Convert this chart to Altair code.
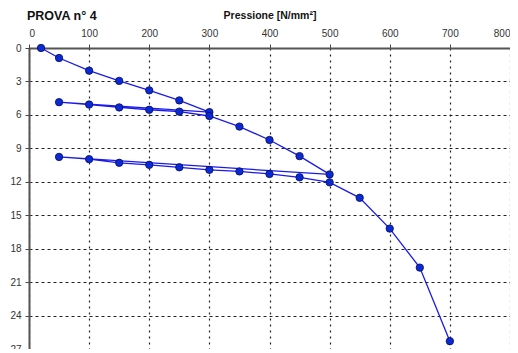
import altair as alt
import pandas as pd

# Pressure [N/mm^2] and depth/displacement readings in test order
pressione = [20, 50, 100, 150, 200, 250, 300,
             50, 100, 150, 200, 250, 300,
             350, 400, 450, 500,
             50, 100, 150, 200, 250, 300, 350, 400, 450, 500,
             550, 600, 650, 700]
valore = [0.0, 0.9, 2.03, 2.95, 3.8, 4.7, 5.75,
          4.86, 5.07, 5.33, 5.54, 5.71, 6.1,
          7.05, 8.25, 9.7, 11.34,
          9.77, 9.97, 10.3, 10.48, 10.7, 10.93, 11.07, 11.3, 11.6, 12.05,
          13.44, 16.2, 19.7, 26.3]

x_ticks = [0, 100, 200, 300, 400, 500, 600, 700, 800]
y_ticks = [0, 3, 6, 9, 12, 15, 18, 21, 24, 27]

df = pd.DataFrame({"p": pressione, "v": valore, "ordine": list(range(len(pressione)))})

x_enc = alt.X("p:Q",
              scale=alt.Scale(domain=[0, 800], nice=False),
              axis=alt.Axis(orient="top", values=x_ticks, tickCount=len(x_ticks),
                            title="Pressione [N/mm²]",
                            titleFontSize=10.5, titleFontWeight="bold", titleColor="#111",
                            titleFont="Liberation Sans", titlePadding=8,
                            labelFont="Liberation Sans", labelFontSize=10, labelColor="#333",
                            labelPadding=6, tickSize=4, tickColor="#444",
                            domainColor="#555", domainWidth=2, labelOverlap=False,
                            grid=True, gridColor="#222", gridDash=[2, 4], gridWidth=1.2))
y_enc = alt.Y("v:Q",
              scale=alt.Scale(domain=[0, 27], reverse=True, nice=False),
              axis=alt.Axis(values=y_ticks, tickCount=len(y_ticks), title=None,
                            labelFont="Liberation Sans", labelFontSize=10, labelColor="#333",
                            labelPadding=4, tickSize=4, tickColor="#444",
                            domainColor="#555", domainWidth=2, labelOverlap=False,
                            grid=True, gridColor="#222", gridDash=[3, 3], gridWidth=1.2))

line = alt.Chart(df).mark_line(color="#1a1aee", strokeWidth=1.3).encode(
    x=x_enc, y=y_enc, order="ordine:Q")
pts = alt.Chart(df).mark_point(filled=True, size=55, color="#0a2ad8", stroke="#0a0a50",
                               strokeWidth=0.8, opacity=1).encode(
    x=alt.X("p:Q"), y=alt.Y("v:Q"))

chart = alt.layer(line, pts).properties(
    width=481, height=301,
    title=alt.TitleParams("PROVA n° 4", anchor="start", font="Liberation Sans",
                          fontSize=12.5, fontWeight="bold", color="#111", offset=0,
                          dx=-2, dy=12, frame="group"),
    autosize=alt.AutoSizeParams(type="none"),
    padding={"left": 21, "top": 40, "right": 0, "bottom": 0},
).configure_view(stroke="#444", strokeWidth=1)

chart.save("out.html", embed_options={"renderer": "svg", "actions": False})
